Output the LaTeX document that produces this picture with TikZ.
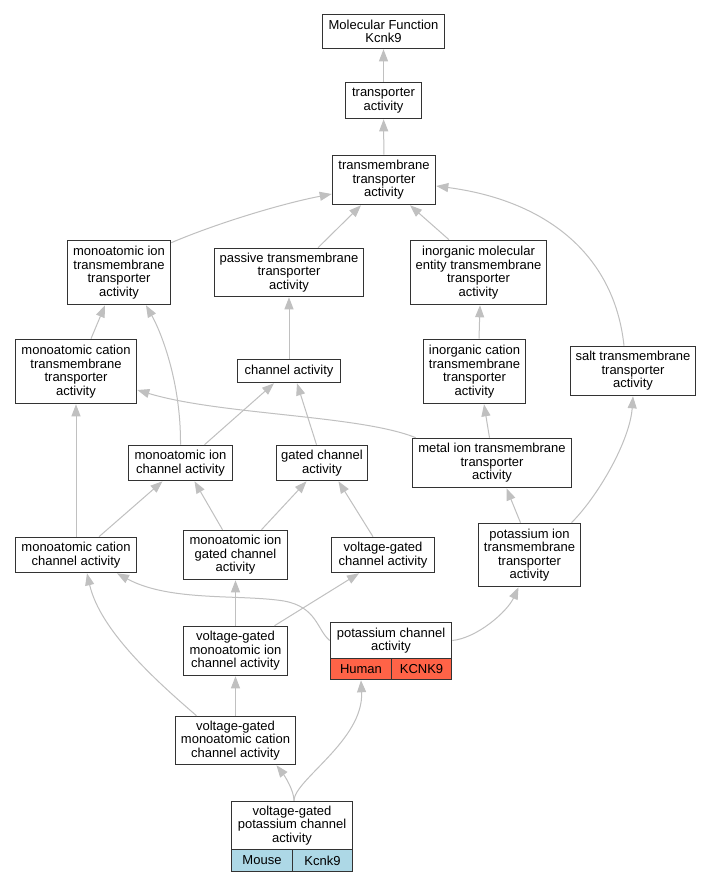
\documentclass[tikz,border=0pt]{standalone}
\usepackage{fontspec}
\setmainfont{Liberation Sans}
\usetikzlibrary{arrows.meta}
\definecolor{edgegray}{HTML}{C0C0C0}
\definecolor{humanred}{HTML}{FF6347}
\definecolor{mouseblue}{HTML}{ADD8E6}
\begin{document}
\begin{tikzpicture}[x=1pt,y=-1pt,
  bx/.style 2 args={draw=black!80, line width=1.6pt, fill=white, inner sep=0pt, align=center,
    font=\fontsize{13}{13.5}\selectfont, minimum width=#1pt, minimum height=#2pt},
  ed/.style={draw=edgegray, line width=1pt, -{Triangle[length=12pt,width=9pt]}}]
\useasboundingbox (0,0) rectangle (711,883);
\fill[white] (0,0) rectangle (711,883);
% nodes
\node[bx={122}{34}] (n1) at (383.5,31.5) {Molecular Function\\Kcnk9};
\node[bx={76}{36}] (n2) at (383.5,100.5) {transporter\\activity};
\node[bx={103}{49}] (n3) at (384,180) {transmembrane\\transporter\\activity};
\node[bx={103}{64}] (n4) at (119,272.5) {monoatomic ion\\transmembrane\\transporter\\activity};
\node[bx={149}{48}] (n5) at (289,272.5) {passive transmembrane\\transporter\\activity};
\node[bx={136}{64}] (n6) at (478.5,272.5) {inorganic molecular\\entity transmembrane\\transporter\\activity};
\node[bx={121}{64}] (n7) at (76,371.5) {monoatomic cation\\transmembrane\\transporter\\activity};
\node[bx={103}{23}] (n8) at (289,371) {channel activity};
\node[bx={102}{64}] (n9) at (474.5,371.5) {inorganic cation\\transmembrane\\transporter\\activity};
\node[bx={125}{49}] (n10) at (633,371) {salt transmembrane\\transporter\\activity};
\node[bx={104}{35}] (n11) at (180.5,463) {monoatomic ion\\channel activity};
\node[bx={91}{35}] (n12) at (322,463) {gated channel\\activity};
\node[bx={159}{49}] (n13) at (492,463) {metal ion transmembrane\\transporter\\activity};
\node[bx={121}{35}] (n14) at (76,555) {monoatomic cation\\channel activity};
\node[bx={104}{49}] (n15) at (235.5,555) {monoatomic ion\\gated channel\\activity};
\node[bx={103}{35}] (n16) at (383,555) {voltage-gated\\channel activity};
\node[bx={102}{63}] (n17) at (529.5,555) {potassium ion\\transmembrane\\transporter\\activity};
\node[bx={104}{49}] (n18) at (235.5,651) {voltage-gated\\monoatomic ion\\channel activity};
\node[bx={121}{36}] (n19) at (391,640.5) {potassium channel\\activity};
\node[bx={61}{21}, fill=humanred] (n19a) at (361,669) {Human};
\node[bx={60}{21}, fill=humanred] (n19b) at (421.5,669) {KCNK9};
\node[bx={120}{48}] (n20) at (235.5,740.5) {voltage-gated\\monoatomic cation\\channel activity};
\node[bx={121}{48}] (n21) at (292,825.5) {voltage-gated\\potassium channel\\activity};
\node[bx={61}{22}, fill=mouseblue] (n21a) at (262,860.5) {Mouse};
\node[bx={60}{22}, fill=mouseblue] (n21b) at (322.5,860.5) {Kcnk9};
% edges
\draw[ed] (n2) -- (n1);
\draw[ed] (n3) -- (n2);
\draw[ed] ([yshift=-3pt]n4.north east) .. controls (215,224) and (280,204) .. ([yshift=-14pt]n3.west);
\draw[ed] ([xshift=29pt]n5.north) -- ([xshift=-23pt]n3.south);
\draw[ed] ([xshift=-29.5pt]n6.north) -- ([xshift=26pt]n3.south);
\draw[ed] ([xshift=-9pt]n10.north) .. controls (614,252) and (543,200) .. ([yshift=-6pt]n3.east);
\draw[ed] ([xshift=15pt]n7.north) -- ([xshift=-14pt]n4.south);
\draw[ed] (n11.north) .. controls (181,380) and (160,330) .. ([xshift=27pt]n4.south);
\draw[ed] (n8) -- (n5);
\draw[ed] ([xshift=4.5pt]n9.north) -- ([xshift=1.5pt]n6.south);
\draw[ed] ([xshift=24pt]n11.north) -- ([xshift=-15pt]n8.south);
\draw[ed] ([xshift=-5.5pt]n12.north) -- ([xshift=8pt]n8.south);
\draw[ed] ([xshift=4pt]n13.north west) .. controls (360,415) and (220,415) .. ([yshift=-18.5pt]n7.east);
\draw[ed] ([xshift=-2.5pt]n13.north) -- ([xshift=9.5pt]n9.south);
\draw[ed] (n14) -- (n7);
\draw[ed] ([xshift=23pt]n14.north) -- ([xshift=-18pt]n11.south);
\draw[ed] ([xshift=-13pt]n15.north) -- ([xshift=14pt]n11.south);
\draw[ed] ([xshift=26pt]n15.north) -- ([xshift=-15.5pt]n12.south);
\draw[ed] ([xshift=-10pt]n16.north) -- ([xshift=16.5pt]n12.south);
\draw[ed] ([xshift=-9pt]n17.north) -- ([xshift=14.5pt]n13.south);
\draw[ed] ([xshift=42pt]n17.north) .. controls (599,495) and (630,440) .. (n10.south);
\draw[ed] (n18) -- (n15);
\draw[ed] ([xshift=39pt]n18.north) -- ([xshift=-24pt]n16.south);
\draw[ed] (n19.west) .. controls (317,630) and (317,607) .. (284,601) .. controls (240,594) and (170,602) .. ([xshift=41pt]n14.south);
\draw[ed] (n19.east) .. controls (477,638) and (507,612) .. ([xshift=-11pt]n17.south);
\draw[ed] ([xshift=-39pt]n20.north) .. controls (155,680) and (100,630) .. ([xshift=11pt]n14.south);
\draw[ed] (n20) -- (n18);
\draw[ed] ([xshift=2pt]n21.north) .. controls (294,790) and (284,775) .. ([xshift=41pt]n20.south);
\draw[ed] ([xshift=2pt]n21.north) .. controls (294,780) and (364,740) .. (n19a.south);
\end{tikzpicture}
\end{document}
